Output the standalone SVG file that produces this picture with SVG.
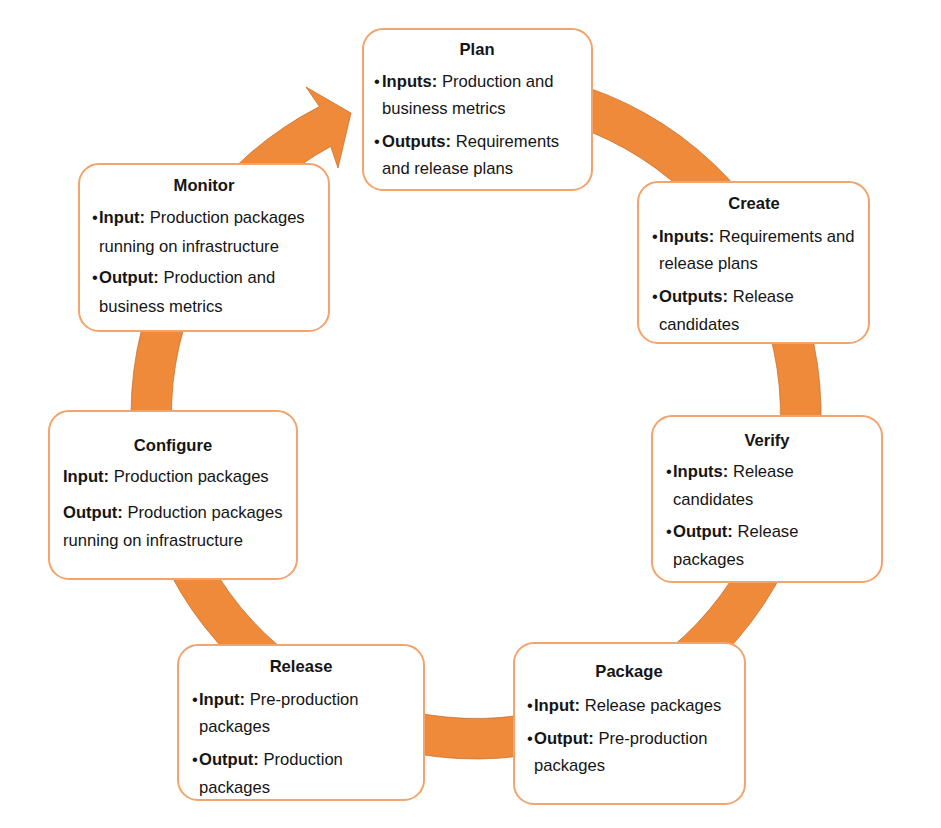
<svg xmlns="http://www.w3.org/2000/svg" width="941" height="828" viewBox="0 0 941 828">
<style>
.box{fill:#fff;stroke:#F3A46C;stroke-width:2}
.t{font-family:"Liberation Sans",Arial,sans-serif;font-size:16.6px;fill:#151515}
.b{font-weight:bold}
.title{font-family:"Liberation Sans",Arial,sans-serif;font-size:16.6px;font-weight:bold;fill:#151515;text-anchor:middle}
.ring{fill:#EE8A3A;stroke:#C46A26;stroke-width:1;stroke-opacity:0.7}
</style>
<rect width="941" height="828" fill="#fff"/>
<g id="connectors">
<path class="ring" d="M 464.0 69.2 A 345 345 0 1 1 319.4 106.6 L 306 87 L 351 113 L 338 168 L 330.7 146.4 A 304.5 304.5 0 1 0 465.4 109.7 Z"/>
</g>
<g id="plan">
<rect class="box" x="363" y="29" width="229" height="161" rx="20"/>
<text class="title" x="477" y="55">Plan</text>
<text class="t" y="87"><tspan x="374">•</tspan><tspan x="382" class="b">Inputs:</tspan> Production and</text>
<text class="t" x="382" y="114">business metrics</text>
<text class="t" y="147"><tspan x="374">•</tspan><tspan x="382" class="b">Outputs:</tspan> Requirements</text>
<text class="t" x="382" y="174">and release plans</text>
</g>
<g id="create">
<rect class="box" x="638" y="182" width="231" height="161" rx="20"/>
<text class="title" x="754" y="209">Create</text>
<text class="t" y="242"><tspan x="652">•</tspan><tspan x="659" class="b">Inputs:</tspan> Requirements and</text>
<text class="t" x="659" y="269">release plans</text>
<text class="t" y="302"><tspan x="652">•</tspan><tspan x="659" class="b">Outputs:</tspan> Release</text>
<text class="t" x="659" y="330">candidates</text>
</g>
<g id="verify">
<rect class="box" x="652" y="416" width="230" height="166" rx="20"/>
<text class="title" x="767" y="446">Verify</text>
<text class="t" y="477"><tspan x="666">•</tspan><tspan x="673" class="b">Inputs:</tspan> Release</text>
<text class="t" x="673" y="505">candidates</text>
<text class="t" y="537"><tspan x="666">•</tspan><tspan x="673" class="b">Output:</tspan> Release</text>
<text class="t" x="673" y="565">packages</text>
</g>
<g id="package">
<rect class="box" x="514" y="643" width="231" height="161" rx="20"/>
<text class="title" x="629" y="677">Package</text>
<text class="t" y="711"><tspan x="527">•</tspan><tspan x="534" class="b">Input:</tspan> Release packages</text>
<text class="t" y="744"><tspan x="527">•</tspan><tspan x="534" class="b">Output:</tspan> Pre-production</text>
<text class="t" x="534" y="771">packages</text>
</g>
<g id="release">
<rect class="box" x="178" y="645" width="246" height="155" rx="20"/>
<text class="title" x="301" y="672">Release</text>
<text class="t" y="705"><tspan x="192">•</tspan><tspan x="199" class="b">Input:</tspan> Pre-production</text>
<text class="t" x="199" y="732">packages</text>
<text class="t" y="765"><tspan x="192">•</tspan><tspan x="199" class="b">Output:</tspan> Production</text>
<text class="t" x="199" y="793">packages</text>
</g>
<g id="configure">
<rect class="box" x="49" y="411" width="248" height="168" rx="20"/>
<text class="title" x="173" y="451">Configure</text>
<text class="t" x="63" y="482"><tspan class="b">Input:</tspan> Production packages</text>
<text class="t" x="63" y="518"><tspan class="b">Output:</tspan> Production packages</text>
<text class="t" x="63" y="546">running on infrastructure</text>
</g>
<g id="monitor">
<rect class="box" x="79" y="164" width="250" height="167" rx="20"/>
<text class="title" x="204" y="191">Monitor</text>
<text class="t" y="223"><tspan x="92">•</tspan><tspan x="99" class="b">Input:</tspan> Production packages</text>
<text class="t" x="99" y="252">running on infrastructure</text>
<text class="t" y="283"><tspan x="92">•</tspan><tspan x="99" class="b">Output:</tspan> Production and</text>
<text class="t" x="99" y="312">business metrics</text>
</g>
</svg>
